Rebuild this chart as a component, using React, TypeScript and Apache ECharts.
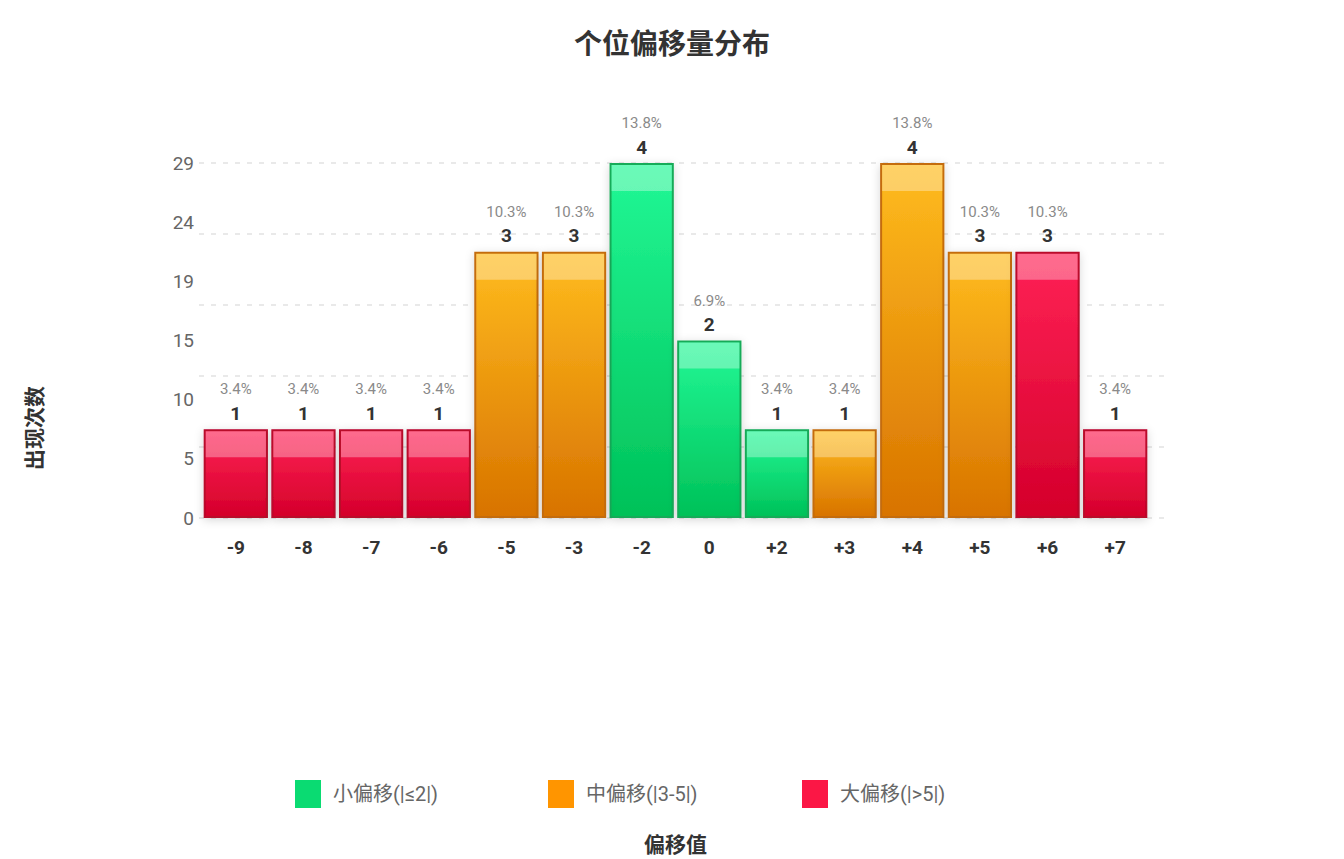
import React, { useEffect, useRef } from "react";
import * as echarts from "echarts";

const categories = ["-9", "-8", "-7", "-6", "-5", "-3", "-2", "0", "+2", "+3", "+4", "+5", "+6", "+7"];
const counts = [1, 1, 1, 1, 3, 3, 4, 2, 1, 1, 4, 3, 3, 1];
const groupOf = ["large", "large", "large", "large", "medium", "medium", "small", "small", "small", "medium", "medium", "medium", "large", "large"];
const groupKeys = ["small", "medium", "large"];
const legendNames = ["小偏移(|≤2|)", "中偏移(|3-5|)", "大偏移(|>5|)"];
const yTickLabels = ["0", "5", "10", "15", "19", "24", "29"];

const FONT = 'Roboto, "Noto Sans CJK SC", sans-serif';

const palette: Record<string, { top: string; bottom: string; border: string; legend: string }> = {
  small: { top: "#22f896", bottom: "#00c158", border: "#16ab58", legend: "#0adb72" },
  medium: { top: "#ffbc1e", bottom: "#d87300", border: "#c46c0c", legend: "#ff9500" },
  large: { top: "#ff2256", bottom: "#d4002a", border: "#b9082c", legend: "#fb1745" },
};

const legendLefts = [290, 543, 797];

export default function App() {
  const ref = useRef<HTMLDivElement>(null);
  useEffect(() => {
    if (!ref.current) return;
    const chart = echarts.init(ref.current, undefined, { renderer: "svg" });
    const total = counts.reduce((a, b) => a + b, 0);

    const barSeries = groupKeys.map((g, gi) => {
      const p = palette[g];
      return {
        name: legendNames[gi],
        type: "bar",
        stack: "total",
        xAxisIndex: 0,
        yAxisIndex: 0,
        barCategoryGap: "5%",
        data: counts.map((c, i) => (groupOf[i] === g ? c : "-")),
        itemStyle: {
          color: new echarts.graphic.LinearGradient(0, 0, 0, 1, [
            { offset: 0, color: p.top },
            { offset: 1, color: p.bottom },
          ]),
          borderColor: p.border,
          borderWidth: 2,
          shadowBlur: 10,
          shadowColor: "rgba(0,0,0,0.16)",
          shadowOffsetY: 2,
        },
        label: {
          show: true,
          position: "top",
          distance: 5,
          formatter: (params: any) => {
            const pct = ((params.value / total) * 100).toFixed(1);
            return `{p|${pct}%}\n{v|${params.value}}`;
          },
          rich: {
            p: { fontSize: 15, color: "#8a8a8a", lineHeight: 26, fontFamily: FONT, align: "center" },
            v: { fontSize: 19, color: "#333", fontWeight: "bold", lineHeight: 22, fontFamily: FONT, align: "center" },
          },
        },
        z: 2,
      };
    });

    const bandSeries = {
      type: "custom",
      xAxisIndex: 0,
      yAxisIndex: 0,
      silent: true,
      z: 5,
      data: counts.map((c, i) => [i, c]),
      encode: { x: 0, y: 1 },
      renderItem: (params: any, api: any) => {
        const idx = api.value(0);
        const val = api.value(1);
        const pt = api.coord([idx, val]);
        const w = api.size([1, 0])[0] * 0.95;
        return {
          type: "rect",
          shape: { x: pt[0] - w / 2 + 2, y: pt[1] + 2, width: w - 4, height: 26 },
          style: { fill: "rgba(255,255,255,0.33)" },
        };
      },
    };

    chart.setOption({
      animation: false,
      backgroundColor: "#fff",
      textStyle: { fontFamily: FONT },
      title: {
        text: "个位偏移量分布",
        left: "center",
        top: 25,
        textStyle: { fontSize: 28, fontWeight: "bold", color: "#333", fontFamily: FONT },
      },
      legend: legendNames.map((n, i) => ({
        left: legendLefts[i],
        top: 775,
        itemWidth: 26,
        itemHeight: 28,
        icon: "rect",
        textStyle: { fontSize: 20, color: "#666", fontFamily: FONT, padding: [0, 0, 0, 7] },
        data: [
          {
            name: n,
            itemStyle: { color: palette[groupKeys[i]].legend, borderWidth: 0, shadowBlur: 0 },
          },
        ],
      })),
      grid: [
        { left: 202, right: 195, top: 163, bottom: 341 },
        { left: 199, right: 176, top: 163, bottom: 341 },
      ],
      xAxis: [
        {
          type: "category",
          gridIndex: 0,
          data: categories,
          name: "偏移值",
          nameLocation: "middle",
          nameGap: 316,
          nameTextStyle: { fontSize: 21, fontWeight: "bold", color: "#333", fontFamily: FONT },
          axisLine: { show: false },
          axisTick: { show: false },
          axisLabel: { margin: 20, fontSize: 19, fontWeight: "bold", color: "#333", fontFamily: FONT },
          splitLine: { show: false },
        },
        {
          type: "value",
          gridIndex: 1,
          min: 0,
          max: 1,
          show: false,
        },
      ],
      yAxis: [
        {
          type: "value",
          gridIndex: 0,
          min: 0,
          max: 4,
          show: false,
          splitLine: { show: false },
        },
        {
          type: "value",
          gridIndex: 1,
          min: 0,
          max: 5,
          interval: 1,
          axisLine: { show: false },
          axisTick: { show: false },
          axisLabel: { show: false },
          splitLine: { show: true, lineStyle: { type: [5, 7], color: "#e2e2e2", width: 1.5 } },
        },
        {
          type: "value",
          gridIndex: 1,
          position: "left",
          min: 0,
          max: 6,
          interval: 1,
          axisLine: { show: false },
          axisTick: { show: false },
          splitLine: { show: false },
          axisLabel: {
            margin: 5,
            fontSize: 19,
            color: "#666",
            fontFamily: FONT,
            formatter: (v: number) => yTickLabels[Math.round(v)] ?? "",
          },
        },
      ],
      graphic: [
        {
          type: "text",
          x: 35,
          y: 428,
          rotation: Math.PI / 2,
          style: {
            text: "出现次数",
            fontSize: 21,
            fontWeight: "bold",
            fill: "#333",
            fontFamily: FONT,
            align: "center",
            verticalAlign: "middle",
          },
        },
      ],
      series: [...barSeries, bandSeries],
    });
    return () => chart.dispose();
  }, []);
  return <div ref={ref} style={{ position: "fixed", left: 0, top: 0, width: 1344, height: 859 }} />;
}
